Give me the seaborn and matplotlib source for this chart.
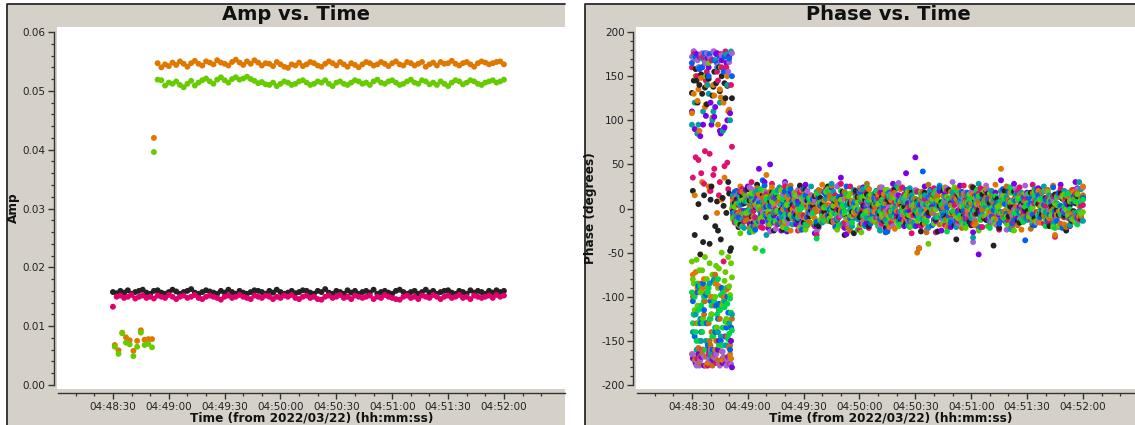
import numpy as np
import pandas as pd
import matplotlib
matplotlib.use("Agg")
import matplotlib.pyplot as plt
import matplotlib.dates as mdates
from matplotlib.ticker import MultipleLocator, AutoMinorLocator, FormatStrFormatter, FixedLocator
from matplotlib.patches import Rectangle
from matplotlib.lines import Line2D
import seaborn as sns

# ---------------- data ----------------
BASE = "2022-03-22 04:48:00"

# Amp panel (values in units of 1e-4), time in seconds after 04:48:00
t_full = list(range(30, 241, 2))          # black / magenta
t_low = [31, 33, 35, 37, 39, 41, 43, 45, 47, 49, 51]
t_jump = [52]
t_high = list(range(54, 241, 2))

amp_black = [158,156,160,157,161,155,158,160,162,157,155,160,161,157,155,158,162,159,155,158,
             160,163,157,155,158,161,159,157,155,160,157,162,158,155,160,157,155,158,161,160,
             158,155,160,157,162,158,155,157,160,156,158,161,160,157,155,160,158,163,157,155,
             160,158,155,161,157,160,155,158,160,157,162,155,158,160,157,155,160,162,158,155,
             158,160,155,158,162,157,160,155,158,160,161,157,155,160,158,155,161,157,160,158,
             155,160,157,161,158,160]
amp_magenta = [133,150,152,148,150,153,147,150,152,148,150,147,152,150,148,153,150,146,150,152,
               148,150,153,148,146,150,152,150,148,145,150,152,148,150,153,150,148,146,152,150,
               148,152,150,146,150,148,152,150,153,148,146,150,152,148,150,146,145,150,152,148,
               150,153,148,150,146,152,150,148,150,152,146,150,148,153,150,148,146,145,150,152,
               148,150,146,152,150,148,153,150,146,150,152,148,150,153,148,150,146,152,150,148,
               150,152,148,153,150,152]
amp_orange_low = [68, 59, 89, 81, 76, 58, 75, 93, 77, 78, 78]
amp_green_low = [65, 53, 88, 72, 69, 49, 65, 89, 68, 70, 64]
amp_orange_jump = [420]
amp_green_jump = [396]
amp_orange_high = [547,540,545,542,548,544,550,546,541,547,551,546,543,550,548,545,552,548,546,543,
                   549,553,548,544,550,546,552,548,543,547,546,542,549,545,541,539,545,543,548,542,
                   545,549,547,543,541,546,550,547,543,549,545,541,547,544,540,545,549,547,543,545,
                   549,546,542,547,550,545,543,549,547,543,546,549,541,545,548,543,549,546,547,551,
                   546,543,547,549,545,541,547,550,548,545,547,549,550,545]
amp_green_high = [519,518,509,514,512,516,510,506,512,517,509,514,518,521,516,512,519,523,518,514,
                  520,523,519,521,524,520,517,513,515,511,510,514,508,512,516,514,510,512,516,518,
                  514,510,512,516,514,518,512,508,514,516,512,510,514,518,516,512,514,510,516,519,
                  514,512,516,518,514,510,512,516,519,514,512,518,516,511,514,510,516,512,508,514,
                  518,516,511,514,518,516,512,510,514,516,518,514,516,519]

# Phase panel (degrees)
t_early = list(range(30, 52))             # 22 samples
t_main = list(range(52, 241, 2))          # 95 samples
t_main2 = list(range(53, 240, 2))         # 94 samples

ph_black_e = [131,145,158,120,140,152,-38,137,118,147,10,128,155,142,-25,133,150,3,125,139,17,-45]
ph_orange_e = [108,130,-72,122,88,148,-90,115,140,25,-160,103,128,-85,95,135,10,120,-100,150,112,-170]
ph_teal_e = [95,172,-120,85,160,-150,110,175,-95,130,-165,100,-80,168,-140,120,-110,90,-155,140,-130,178]
ph_purple_e = [110,178,-175,85,172,-168,95,165,-130,160,120,-172,104,175,-160,88,168,90,-176,100,172,-150]
ph_pink_e = [160,175,58,-170,150,40,172,65,155,-165,20,168,45,-175,145,30,160,-60,178,52,-168,140]
ph_lavender_e = [172,178,-172,168,-178,175,-160,165,176,-170,170,-175,178,-165,162,-178,174,-168,177,-172,166,-176]
ph_blue_e = [165,-120,172,-95,158,-140,-85,176,-130,150,-105,-160,168,-110,-125,172,-90,155,-145,-100,170,-135]
ph_green_e = [-60,-85,150,-110,-70,-95,-125,-55,-80,165,-100,-75,-140,-65,-90,-115,-50,-105,-72,-130,-88,-62]
ph_lime_e = [-95,-120,-140,-85,-150,-110,-130,-100,-160,-90,-125,-145,-105,-135,-80,-115,-155,-95,-128,-108,-142,-118]
ph_brown_e = [-165,-120,-170,-90,-175,-140,-160,-105,-168,-130,-155,-178,-110,-150,-172,-125,-162,-100,-170,-145,-158,-135]

ph_black_e2 = [20,-30,145,5,-52,130,15,-10,150,-40,25,138,-20,8,160,-35,12,142,-5,30,-48,125]
ph_orange_e2 = [-75,15,-95,135,-168,30,-80,118,-175,20,-100,140,-160,-5,-88,126,-172,35,-92,110,-165,0]
ph_teal_e2 = [-140,120,-160,95,-125,170,-100,-150,140,-85,-170,110,-135,160,-115,-145,88,-105,175,-155,100,-120]
ph_purple_e2 = [-170,90,175,-165,82,160,-178,105,170,-160,95,-172,115,176,-150,85,-175,92,165,-168,108,-180]
ph_pink_e2 = [35,-172,150,55,172,-160,28,145,-178,62,168,38,-165,155,15,175,-170,48,160,22,-176,70]
ph_lavender_e2 = [-165,170,-178,160,-172,176,-168,150,-175,172,-160,178,-170,165,-176,168,-162,174,-178,155,-170,176]
ph_blue_e2 = [-105,-145,170,-88,-130,160,-115,-98,-155,175,-120,-82,-140,165,-108,-150,-92,172,-135,-118,-160,150]
ph_green_e2 = [-80,-115,-58,-130,-95,-70,-105,150,-88,-62,-120,-75,-100,-135,-68,160,-110,-82,-125,-55,-98,-78]
ph_lime_e2 = [-130,-100,-150,-115,-88,-140,-105,-160,-95,-125,-110,-145,-85,-120,-155,-98,-135,-112,-90,-148,-102,-138]
ph_brown_e2 = [-100,-172,-130,-158,-85,-165,-120,-178,-95,-150,-140,-168,-75,-160,-115,-175,-108,-145,-170,-90,-155,-125]

ph_purple_m = [5,-12,18,-3,25,-20,8,45,-15,2,50,-8,12,-25,30,-5,15,-18,6,22,
               -10,3,-28,14,-6,20,-14,9,-2,35,-22,7,-11,16,-4,24,-16,1,11,-9,
               19,-13,4,28,-7,13,-20,6,-3,58,-45,12,-8,21,-15,5,-25,17,-6,10,
               -12,26,-2,8,-18,14,-52,3,20,-10,7,-5,32,-14,9,-21,15,2,-7,18,
               -11,6,23,-4,12,-16,8,-2,27,-9,4,-13,30,-6,11]
ph_lavender_m = [-8,15,-20,6,-2,22,-14,10,-5,18,-26,3,12,-9,28,-17,7,-3,14,-11,
                 20,-6,9,-22,4,16,-12,1,25,-8,11,-18,5,-4,19,-15,8,-1,13,-10,
                 24,-7,2,-20,15,-3,10,-14,6,21,-9,4,-24,12,-2,17,-11,8,-5,30,
                 -16,3,11,-7,19,-13,5,-1,26,-10,9,-19,14,-4,7,-8,22,-12,3,16,
                 -6,10,-15,4,20,-3,8,-11,13,-2,18,-9,6,-14,24]
ph_pink_m = [12,-5,20,-15,8,30,-10,3,-22,16,-7,11,-18,4,25,-3,9,-12,18,-8,
             2,15,-20,7,-4,22,-13,6,-1,28,-16,10,-6,14,-24,5,19,-9,1,12,
             -17,8,-3,21,-11,4,16,-7,-28,10,-2,18,-14,6,23,-9,3,-19,11,-5,
             15,-1,26,-12,7,-6,17,-21,2,13,-10,9,-4,20,-15,5,-8,24,-2,11,
             -13,6,18,-7,3,-16,14,-1,22,-10,8,-5,16,-12,4]
ph_black_m = [-3,10,-18,6,22,-9,2,-14,15,-6,8,-25,12,-1,19,-11,4,-7,26,-16,
              9,-2,14,-20,5,17,-8,1,-13,11,-30,7,-4,20,-10,3,16,-15,6,-5,
              13,-22,8,-1,24,-12,2,-9,18,-6,10,-17,4,-3,15,-26,7,-11,21,-4,
              -35,12,-8,3,-19,9,-2,16,-13,6,-42,11,-5,20,-9,1,14,-16,7,-3,
              18,-11,5,-7,12,-20,3,-1,17,-8,9,-14,6,-4,13]
ph_orange_m = [8,-14,25,-6,13,-20,4,16,-9,38,-12,6,-3,21,-17,10,-1,18,-24,7,
               -5,14,-11,3,27,-8,11,-15,5,-2,19,-13,9,-6,23,-18,2,12,-4,16,
               -10,6,-21,15,-3,9,-14,20,-7,4,-45,13,-1,18,-12,7,-5,24,-16,3,
               11,-9,17,-2,6,-19,14,-8,22,-4,10,-13,45,-6,8,-22,12,-3,16,-10,
               5,-15,20,-1,9,-11,26,-7,3,-18,14,-5,10,-9,25]
ph_brown_m = [-10,6,-2,17,-13,9,-20,4,12,-7,19,-3,8,-16,2,24,-11,5,-8,14,
              -19,7,-1,21,-9,3,15,-14,10,-5,18,-22,6,-2,13,-10,28,-6,4,-17,
              9,-3,16,-12,5,22,-8,1,-15,11,-4,19,-27,7,-1,14,-9,3,-20,12,
              -6,17,-11,4,25,-15,8,-2,13,-18,6,-7,20,-3,10,-14,2,16,-9,5,
              -23,11,-4,18,-12,7,-1,14,-17,9,-6,21,-10,3,15]
ph_teal_m = [15,-8,4,-22,10,-3,18,-13,7,-30,12,-5,21,-10,2,16,-18,8,-1,13,
             -9,25,-4,6,-16,11,-2,19,-12,5,-7,14,-20,9,-3,22,-11,4,17,-6,
             1,-14,12,-8,26,-4,7,-19,15,-2,10,-12,5,20,-16,3,-9,13,-5,18,
             -21,8,-1,14,-11,6,28,-7,2,-15,11,-3,19,-10,5,-24,16,-6,9,-13,
             3,22,-8,12,-4,15,-18,6,-2,20,-11,8,-5,30,-14]
ph_blue_m = [-5,20,-11,8,-2,14,-24,6,32,-9,3,-16,11,-4,19,-7,9,-13,5,22,
             -10,2,-18,12,-6,16,-1,10,-22,7,-3,15,-12,4,20,-8,1,-17,13,-5,
             9,-27,18,-2,6,-10,14,-4,11,-20,3,42,-7,15,-13,8,-1,21,-9,4,
             -15,12,-3,18,-6,2,-23,10,-8,16,-2,7,-12,5,19,-17,9,-4,13,-10,
             6,-19,15,-1,10,-7,24,-14,3,-5,17,-11,8,-3,12]
ph_green_m = [-12,5,-28,10,-4,17,-45,2,-9,13,-18,7,-2,20,-14,4,-6,15,-21,9,
              -1,12,-16,6,-8,19,-11,3,-24,10,-5,14,-9,1,-19,11,-3,16,-13,5,
              -7,21,-10,2,-15,8,-4,18,-20,6,-2,13,-11,4,-17,9,-6,22,-14,3,
              -9,15,-18,7,-1,12,-25,5,-8,17,-12,2,-5,14,-19,8,-3,11,-15,6,
              -10,19,-7,3,-13,9,-21,4,-2,16,-8,10,-16,5,-4]
ph_lime_m = [3,-16,12,-5,8,-22,15,-2,-48,10,-9,18,-13,4,-7,22,-11,6,-1,14,
             -18,9,-4,17,-10,2,-14,11,-6,20,-3,7,-16,13,-1,-8,24,-12,5,-20,
             10,-5,15,-2,8,-18,12,-7,3,19,-11,6,-15,1,16,-9,4,-13,10,-3,
             21,-8,5,-17,11,-2,14,-10,7,-22,13,-4,9,-12,2,18,-6,8,-15,4,
             -1,15,-9,11,-20,6,-3,13,-7,2,17,-12,8,-4,10]

ph_purple_m2 = [-14,9,-3,21,-18,6,12,-7,30,-22,4,16,-11,2,-26,19,-5,8,-15,27,
                -2,13,-20,5,10,-8,24,-13,1,17,-29,7,-4,14,-17,3,22,-10,6,-1,
                18,-24,9,-6,15,-12,40,-3,11,-19,4,25,-8,2,-14,20,-5,12,-21,7,
                -2,16,-9,5,-27,13,-4,21,-12,3,18,-7,10,-16,2,28,-11,6,-3,15,
                -18,9,-6,20,-13,4,-8,17,-2,12,-20,7,23,-10]
ph_lavender_m2 = [7,-19,13,-4,24,-9,2,-15,18,-6,10,-23,5,16,-12,1,-8,21,-17,9,
                  -3,14,-26,6,19,-10,3,-14,27,-5,11,-18,8,-1,22,-13,4,-9,15,-20,
                  6,-2,17,-11,29,-7,12,-16,3,20,-4,9,-22,14,-8,1,-13,23,-6,10,
                  -17,5,18,-3,-38,12,-10,7,21,-15,2,-5,16,-24,8,-1,13,-12,26,-7,
                  4,-16,11,-3,19,-9,6,-21,14,-2,9,-13,22,-6]
ph_pink_m2 = [-16,4,22,-9,11,-3,17,-21,6,-12,28,-1,9,-17,14,-6,3,-25,19,-8,
              12,-2,-30,8,-14,21,-5,15,-10,2,-19,25,-7,10,-3,16,-22,5,-11,18,
              -1,13,-16,7,-4,24,-13,2,-8,19,-20,11,-5,15,-27,6,-2,20,-9,4,
              -14,17,-6,12,-18,1,23,-11,8,-3,14,-24,10,-7,5,-15,19,-2,11,-10,
              27,-4,8,-17,13,-1,-32,16,-6,9,-12,21,-8,3]
ph_black_m2 = [6,-21,14,-3,9,-16,27,-8,2,-12,18,-5,11,-24,7,-1,16,-13,4,21,
               -9,3,-18,12,-4,25,-15,8,-2,19,-11,5,-28,13,-6,10,-20,2,17,-7,
               -14,9,-3,22,-10,4,-17,14,-1,8,-26,18,-5,11,-12,3,20,-8,6,-19,
               15,-2,9,-15,24,-6,1,-11,17,-4,12,-22,7,-9,3,19,-14,5,-1,13,
               -18,8,-5,22,-10,2,16,-7,11,-25,4,-3,14,-12]
ph_orange_m2 = [-9,17,-4,11,-22,6,19,-13,3,-7,24,-16,8,-1,14,-25,10,-5,21,-11,
                2,-18,15,-3,9,-14,26,-6,4,-20,12,-2,18,-9,7,-15,22,-4,1,-12,
                16,-7,9,-23,5,13,-10,20,-1,-50,11,-17,6,-3,19,-8,14,-21,4,-6,
                23,-13,8,-2,16,-19,3,-9,12,-4,27,-14,6,-1,18,-11,9,-24,2,15,
                -7,10,-16,4,21,-3,-30,13,-9,7,-18,19,-5,11]
ph_brown_m2 = [12,-6,19,-14,3,-9,23,-2,8,-18,15,-4,10,-21,5,26,-12,1,-7,17,
               -15,7,-3,20,-10,4,13,-19,9,-1,16,-25,6,-8,21,-4,11,-14,2,24,
               -11,5,-6,18,-20,8,-2,14,-16,3,10,-9,27,-5,12,-18,1,-12,19,-3,
               7,-22,15,-7,4,20,-13,9,-1,14,-17,6,-10,25,-4,11,-19,3,8,-6,
               17,-14,2,-8,21,-11,6,-3,15,-21,10,-5,18,-9]
ph_teal_m2 = [-4,16,-12,8,-27,5,20,-9,1,-15,12,-3,24,-18,6,-7,17,-11,3,-22,
              10,-5,19,-14,2,-9,28,-6,13,-17,4,-1,21,-12,7,-20,14,-3,9,-25,
              5,18,-8,1,-14,11,-4,23,-16,6,-2,15,-21,8,-10,26,-5,3,-13,19,
              -7,12,-18,2,-33,16,-9,5,-1,20,-15,7,-4,13,-23,9,-2,18,-11,4,
              -17,10,-6,25,-3,8,-14,15,-8,1,-19,12,-5,22]
ph_blue_m2 = [19,-10,5,-3,14,-20,9,-6,26,-13,2,11,-17,7,-1,22,-9,4,-24,15,
              -5,10,-15,3,18,-8,1,-21,13,-4,25,-11,6,-2,16,-18,8,-7,20,-12,
              3,-26,14,-5,9,-1,21,-14,6,-10,17,-3,12,-19,4,24,-8,1,-16,10,
              -4,19,-12,7,-2,15,-21,5,11,-9,3,-17,22,-6,8,-13,16,-1,-36,12,
              -7,20,-10,4,-15,9,-3,18,-22,6,-1,14,-11,7]
ph_green_m2 = [2,-18,9,-5,15,-26,6,-11,20,-3,8,-15,13,-21,4,-7,18,-1,11,-24,
               5,-9,16,-13,1,22,-6,10,-19,3,-12,17,-4,7,-27,14,-2,9,-16,6,
               -10,21,-3,12,-20,1,15,-8,4,-14,19,-6,-40,11,-1,8,-17,13,-5,24,
               -11,2,-22,16,-7,5,-13,20,-2,9,-18,3,14,-9,7,-25,12,-4,17,-10,
               1,-15,10,-3,19,-8,6,-20,13,-1,8,-12,16,-6]
ph_lime_m2 = [-11,6,-20,14,-2,9,-16,22,-7,3,-13,18,-4,10,-23,5,15,-9,1,-18,
              12,-5,-34,7,-14,20,-1,11,-19,4,16,-8,2,-24,13,-6,9,-12,19,-3,
              6,-17,14,-9,23,-2,8,-21,11,-5,16,-13,4,-1,20,-10,7,-26,12,-4,
              18,-15,3,10,-7,21,-12,5,-20,1,14,-3,9,-17,24,-6,11,-11,2,17,
              -14,6,-2,20,-9,13,-22,4,-7,15,-1,10,-18,8]

amp_colors = {"black": "#222222", "magenta": "#e0006b", "orange": "#e07800", "green": "#66cc00"}
phase_colors = {"purple": "#7a00e6", "lavender": "#a462d8", "pink": "#e0106e", "black": "#222222",
                "orange": "#e07800", "brown": "#c07010", "teal": "#00a0a4", "blue": "#0060f0",
                "green": "#66cc00", "lime": "#00d84a"}

# ---------------- frames ----------------
base = pd.Timestamp(BASE)


def to_time(secs):
    return base + pd.to_timedelta(np.asarray(secs, dtype=float), unit="s")


amp_rows = []
for name, ts, vals in [("black", t_full, amp_black), ("magenta", t_full, amp_magenta),
                       ("orange", t_low + t_jump + t_high, amp_orange_low + amp_orange_jump + amp_orange_high),
                       ("green", t_low + t_jump + t_high, amp_green_low + amp_green_jump + amp_green_high)]:
    amp_rows.append(pd.DataFrame({"time": to_time(ts), "amp": np.asarray(vals) * 1e-4, "series": name}))
amp_df = pd.concat(amp_rows, ignore_index=True)

early = {"black": ph_black_e, "orange": ph_orange_e, "teal": ph_teal_e, "purple": ph_purple_e,
         "pink": ph_pink_e, "lavender": ph_lavender_e, "blue": ph_blue_e, "green": ph_green_e,
         "lime": ph_lime_e, "brown": ph_brown_e}
early2 = {"black": ph_black_e2, "orange": ph_orange_e2, "teal": ph_teal_e2, "purple": ph_purple_e2,
          "pink": ph_pink_e2, "lavender": ph_lavender_e2, "blue": ph_blue_e2, "green": ph_green_e2,
          "lime": ph_lime_e2, "brown": ph_brown_e2}
main = {"purple": ph_purple_m, "lavender": ph_lavender_m, "pink": ph_pink_m, "black": ph_black_m,
        "orange": ph_orange_m, "brown": ph_brown_m, "teal": ph_teal_m, "blue": ph_blue_m,
        "green": ph_green_m, "lime": ph_lime_m}
main2 = {"purple": ph_purple_m2, "lavender": ph_lavender_m2, "pink": ph_pink_m2, "black": ph_black_m2,
         "orange": ph_orange_m2, "brown": ph_brown_m2, "teal": ph_teal_m2, "blue": ph_blue_m2,
         "green": ph_green_m2, "lime": ph_lime_m2}
ph_rows = []
for name in phase_colors:
    ph_rows.append(pd.DataFrame({"time": to_time(t_early), "phase": early[name], "series": name}))
    ph_rows.append(pd.DataFrame({"time": to_time(np.asarray(t_early) + 0.5), "phase": early2[name], "series": name}))
    ph_rows.append(pd.DataFrame({"time": to_time(t_main), "phase": main[name], "series": name}))
    ph_rows.append(pd.DataFrame({"time": to_time(t_main2), "phase": main2[name], "series": name}))
ph_df = pd.concat(ph_rows, ignore_index=True).sort_values("time", kind="stable")

# ---------------- figure ----------------
sns.set_theme(style="white")
plt.rcParams["font.family"] = ["DejaVu Sans"]
W, H = 1135, 425
fig = plt.figure(figsize=(W / 100, H / 100), dpi=100, facecolor="white")

GREY = "#d5d1c9"
for x0, x1 in [(7, 565), (585, 1150)]:
    fig.add_artist(Rectangle((x0 / W, 0), (x1 - x0) / W, (H - 4) / H, transform=fig.transFigure,
                             facecolor=GREY, edgecolor="none", zorder=0))
    fig.add_artist(Line2D([x0 / W, x0 / W, x1 / W], [0, (H - 4) / H, (H - 4) / H],
                          transform=fig.transFigure, color="#2a2a2a", lw=1.3, zorder=1))
# white plotting areas (slightly wider than the axes, as in the reference)
for x0, x1 in [(57, 565), (636, 1150)]:
    fig.add_artist(Rectangle((x0 / W, (H - 389) / H), (x1 - x0) / W, 362 / H, transform=fig.transFigure,
                             facecolor="white", edgecolor="none", zorder=0.5))


def make_ax(xpix):
    ax = fig.add_axes([xpix / W, (H - 389) / H, 507 / W, (389 - 27) / H])
    ax.patch.set_alpha(0)
    ax.set_zorder(2)
    return ax


ax1 = make_ax(58)
ax2 = make_ax(637)

sns.scatterplot(data=amp_df, x="time", y="amp", hue="series", palette=amp_colors, legend=False,
                s=18, linewidth=0, ax=ax1, zorder=3)
sns.scatterplot(data=ph_df, x="time", y="phase", hue="series", palette=phase_colors, legend=False,
                s=18, linewidth=0, ax=ax2, zorder=3)

major_secs = list(range(30, 241, 30))
minor_secs = [s for s in range(10, 271, 10) if s % 30 != 0]
major_nums = mdates.date2num(to_time(major_secs).to_pydatetime())
minor_nums = mdates.date2num(to_time(minor_secs).to_pydatetime())

for ax in (ax1, ax2):
    ax.set_xlim(mdates.date2num(to_time([0.5, 272.8]).to_pydatetime()))
    ax.xaxis.set_major_locator(FixedLocator(major_nums))
    ax.xaxis.set_minor_locator(FixedLocator(minor_nums))
    ax.xaxis.set_major_formatter(mdates.DateFormatter("%H:%M:%S"))
    for s in ("top", "right"):
        ax.spines[s].set_visible(False)
    for s in ("left", "bottom"):
        ax.spines[s].set_position(("outward", 3))
        ax.spines[s].set_color("#333333")
        ax.spines[s].set_linewidth(1.0)
    ax.tick_params(which="major", direction="out", length=4, width=1.0, color="#333333",
                   labelsize=7.5, labelcolor="#222222", pad=2, left=True, bottom=True)
    ax.tick_params(which="minor", direction="out", length=2.5, width=0.9, color="#333333",
                   left=True, bottom=True)
    ax.set_xlabel("Time (from 2022/03/22) (hh:mm:ss)", fontsize=8.7, fontweight="bold", color="#111111")
    ax.xaxis.set_label_coords(0.5, -0.062)
    ax.yaxis.set_minor_locator(AutoMinorLocator(5))

ax1.set_ylim(-0.00068, 0.06085)
ax1.yaxis.set_major_locator(MultipleLocator(0.01))
ax1.yaxis.set_major_formatter(FormatStrFormatter("%.2f"))
ax1.spines["left"].set_bounds(0, 0.06)
ax1.set_ylabel("Amp", fontsize=8.7, fontweight="bold", color="#111111")
ax1.yaxis.set_label_coords(-0.076, 0.5)

ax2.set_ylim(-204.5, 205.7)
ax2.yaxis.set_major_locator(MultipleLocator(50))
ax2.yaxis.set_major_formatter(FormatStrFormatter("%d"))
ax2.spines["left"].set_bounds(-200, 200)
ax2.set_ylabel("Phase (degrees)", fontsize=8.7, fontweight="bold", color="#111111")
ax2.yaxis.set_label_coords(-0.078, 0.5)

fig.text(296.5 / W, 1 - 14 / H, "Amp vs. Time", ha="center", va="center",
         fontsize=14, fontweight="bold", color="#111111")
fig.text(888.5 / W, 1 - 14 / H, "Phase vs. Time", ha="center", va="center",
         fontsize=14, fontweight="bold", color="#111111")

fig.savefig("out.png", dpi=100, facecolor="white")
